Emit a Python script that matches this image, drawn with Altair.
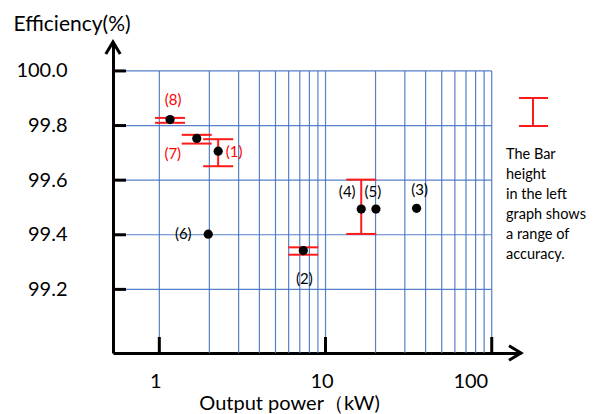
import altair as alt
import pandas as pd

# ---- data ----
labels = ["(1)", "(2)", "(3)", "(4)", "(5)", "(6)", "(7)", "(8)"]
power_kw = [2.26, 7.35, 35.3, 16.4, 20.1, 1.97, 1.68, 1.16]
efficiency = [99.706, 99.342, 99.497, 99.494, 99.494, 99.402, 99.753, 99.822]
err_low = [99.651, 99.327, None, 99.403, None, None, 99.734, 99.810]
err_high = [99.750, 99.354, None, 99.602, None, None, 99.766, 99.828]

x_ticks = [1, 10, 100]
y_ticks = [99.2, 99.4, 99.6, 99.8, 100.0]
x_grid = [1, 2, 3, 4, 5, 6, 7, 8, 9, 10, 20, 30, 40, 50, 60, 70, 80, 90, 100]
y_grid = [99.2, 99.4, 99.6, 99.8, 100.0]

note_lines = ["The Bar", "height", "in the left", "graph shows", "a range of", "accuracy."]

# label styling: (dx, dy, colour)
label_style = {
    "(1)": (16, 1, "#ff0000"),
    "(2)": (1, 28, "black"),
    "(3)": (3, -18, "black"),
    "(4)": (-14, -17, "black"),
    "(5)": (-3, -17, "black"),
    "(6)": (-25, 0, "black"),
    "(7)": (-24, 16, "#ff0000"),
    "(8)": (3, -20, "#ff0000"),
}

W, H = 408, 311
RED = "#ff1a1a"
GRID = "#4472c4"
FONT = "Lato"

pts = pd.DataFrame({"label": labels, "power": power_kw, "eff": efficiency,
                    "lo": err_low, "hi": err_high})
err = pts.dropna(subset=["lo", "hi"])

xscale = alt.Scale(type="log", domain=[0.5264, 150], nice=False)
yscale = alt.Scale(domain=[98.967, 100.106], zero=False, nice=False)

x_axis = alt.Axis(
    values=x_ticks, format="d", grid=False, ticks=False, tickSize=0,
    domainColor="black", domainWidth=3,
    labelFont=FONT, labelFontSize=20, labelColor="black", labelPadding=18,
    labelOffset=-4, labelFlush=False,
    labelAlign={"condition": {"test": "datum.value >= 100", "value": "right"}, "value": "center"},
    title="Output power（kW)", titleFont=FONT, titleFontSize=20, titleFontWeight="normal",
    titleColor="black", titleX=176, titleY=40, titleAlign="center", titleBaseline="top",
)
y_axis = alt.Axis(
    values=y_ticks, format=".1f", grid=False, ticks=False, tickSize=0,
    domainColor="black", domainWidth=3,
    labelFont=FONT, labelFontSize=20, labelColor="black", labelPadding=46,
    title="Efficiency(%)", titleFont=FONT, titleFontSize=21, titleFontWeight="normal",
    titleColor="black", titleAngle=0, titleX=-100, titleY=-12,
    titleAlign="left", titleBaseline="alphabetic",
)


def X(field):
    return alt.X(field, type="quantitative", scale=xscale, axis=x_axis)


def Y(field):
    return alt.Y(field, type="quantitative", scale=yscale, axis=y_axis)


# grid
vgrid = alt.Chart(pd.DataFrame({"g": x_grid})).mark_rule(color=GRID, strokeWidth=1.2, opacity=0.9).encode(
    x=X("g"),
    y=alt.YDatum(100.0, type="quantitative", scale=yscale, axis=y_axis),
    y2=alt.value(H),
)
hgrid = alt.Chart(pd.DataFrame({"g": y_grid})).mark_rule(color=GRID, strokeWidth=1.2, opacity=0.9).encode(
    y=Y("g"),
    x=alt.XDatum(100, type="quantitative", scale=xscale, axis=x_axis),
    x2=alt.value(0),
)

# inward ticks
yt = alt.Chart(pd.DataFrame({"t": y_ticks})).mark_rule(color="black", strokeWidth=3).encode(
    y=Y("t"), x=alt.value(0), x2=alt.value(13),
)
xt = alt.Chart(pd.DataFrame({"t": x_ticks})).mark_rule(color="black", strokeWidth=3).encode(
    x=X("t"), y=alt.value(H), y2=alt.value(H - 16),
)

# error bars
ebar = alt.Chart(err).mark_rule(color=RED, strokeWidth=2).encode(
    x=X("power"), y=Y("lo"), y2="hi:Q",
)
cap_lo = alt.Chart(err).mark_rule(color=RED, strokeWidth=2, xOffset=-15, x2Offset=15).encode(
    x=X("power"), x2="power:Q", y=Y("lo"),
)
cap_hi = alt.Chart(err).mark_rule(color=RED, strokeWidth=2, xOffset=-15, x2Offset=15).encode(
    x=X("power"), x2="power:Q", y=Y("hi"),
)

points = alt.Chart(pts).mark_circle(size=85, color="black", opacity=1).encode(
    x=X("power"), y=Y("eff"),
)

# point labels
label_layers = []
for lab in labels:
    dx, dy, col = label_style[lab]
    label_layers.append(
        alt.Chart(pts).transform_filter(alt.datum.label == lab).mark_text(
            dx=dx, dy=dy, color=col, font=FONT, fontSize=15, baseline="middle", align="center"
        ).encode(x=X("power"), y=Y("eff"), text="label:N")
    )

# side note with example bar
note_v = alt.Chart().mark_rule(color=RED, strokeWidth=2).encode(
    x=alt.value(420), y=alt.value(56), y2=alt.value(84))
note_t = alt.Chart().mark_rule(color=RED, strokeWidth=2).encode(
    x=alt.value(406), x2=alt.value(435), y=alt.value(56))
note_b = alt.Chart().mark_rule(color=RED, strokeWidth=2).encode(
    x=alt.value(406), x2=alt.value(435), y=alt.value(84))
note_text = alt.Chart().mark_text(
    align="left", baseline="top", font=FONT, fontSize=14.5, lineHeight=20, color="black"
).encode(x=alt.value(393), y=alt.value(106), text=alt.value(note_lines))

# arrow heads
arrow_x = alt.Chart().mark_point(
    shape="M-1.5,-0.9L0,0L-1.5,0.9", size=256, filled=False, stroke="black", strokeWidth=3, opacity=1
).encode(x=alt.value(W), y=alt.value(H))
arrow_y = alt.Chart().mark_point(
    shape="M-0.9,1.5L0,0L0.9,1.5", size=256, filled=False, stroke="black", strokeWidth=3, opacity=1
).encode(x=alt.value(0), y=alt.value(0))

chart = alt.layer(
    vgrid, hgrid, yt, xt, ebar, cap_lo, cap_hi, points, *label_layers,
    note_v, note_t, note_b, note_text, arrow_x, arrow_y,
).properties(
    width=W, height=H,
    padding={"left": 105, "top": 34, "right": 68, "bottom": 61},
    autosize=alt.AutoSizeParams(type="none"),
).configure(font=FONT).configure_view(stroke=None)

chart.save("out.html", embed_options={"renderer": "svg", "actions": False})
